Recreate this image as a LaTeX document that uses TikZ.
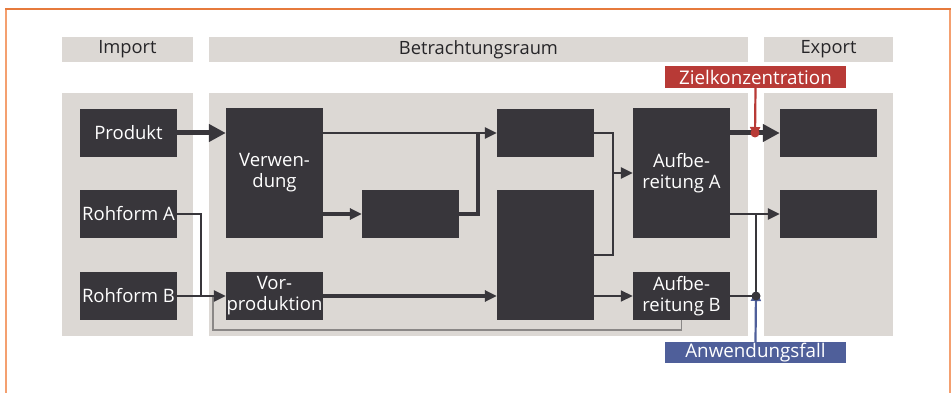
\documentclass[tikz,border=0pt]{standalone}
\usepackage{fontspec}
\setmainfont{Open Sans}
\usetikzlibrary{arrows.meta}
\definecolor{dk}{HTML}{38363B}
\definecolor{pnl}{HTML}{DCD8D4}
\definecolor{rd}{HTML}{B83A36}
\definecolor{bl}{HTML}{4F5F9A}
\definecolor{orA}{HTML}{E67A3C}
\definecolor{orB}{HTML}{F4A070}
\definecolor{gr}{HTML}{8A8786}
\definecolor{tx}{HTML}{262528}
\tikzset{
  dbox/.style={fill=dk, text=white, inner sep=0pt, minimum width=97pt, minimum height=48pt, align=center, font=\fontsize{18.5}{21}\selectfont},
  pbox/.style={fill=pnl, inner sep=0pt, minimum height=243pt},
  hbox/.style={fill=pnl, inner sep=0pt, minimum height=25pt, text=tx, font=\fontsize{18.3}{20}\selectfont},
  lbl/.style={inner sep=0pt, minimum width=181pt, text=white, font=\fontsize{18.8}{20}\selectfont},
  wA/.style={line width=5pt, draw=dk},
  wB/.style={line width=3.2pt, draw=dk},
  wC/.style={line width=2.4pt, draw=dk},
  wD/.style={line width=1.6pt, draw=dk},
  bigtip/.style={-{Triangle[length=17pt,width=17pt]}},
  smtip/.style={-{Triangle[length=12pt,width=11pt]}},
}
\begin{document}
\begin{tikzpicture}[x=1pt,y=-1pt]
\useasboundingbox (0,0) rectangle (951,393);
% frame
\draw[orB, line width=2pt] (6,9) -- (6,393);
\draw[orB, line width=2pt] (950,9) -- (950,393);
\draw[orA, line width=2pt] (5,9) -- (951,9);
% headers
\node[hbox, minimum width=131pt] (himp) at (127.5,49.5) {Import};
\node[hbox, minimum width=539pt] (hbet) at (478.5,49.5) {Betrachtungsraum};
\node[hbox, minimum width=129pt] (hexp) at (828.5,49.5) {Export};
% panels
\node[pbox, minimum width=131pt] (pimp) at (127.5,214.5) {};
\node[pbox, minimum width=539pt] (pbet) at (478.5,214.5) {};
\node[pbox, minimum width=129pt] (pexp) at (828.5,214.5) {};
% labels
\node[lbl, fill=rd, minimum height=22pt] (ziel) at (755.5,77) {Zielkonzentration};
\node[lbl, fill=bl, minimum height=21pt] (anw) at (755.5,352.5) {Anwendungsfall};
% boxes
\node[dbox] (produkt) at (128.5,133) {Produkt};
\node[dbox] (rohA) at (128.5,214) {Rohform A};
\node[dbox] (rohB) at (128.5,296) {Rohform B};
\node[dbox, minimum height=130pt] (verw) at (274.5,173) {Verwen-\\dung};
\node[dbox] (small) at (410.5,214) {};
\node[dbox] (topm) at (545.5,133) {};
\node[dbox, minimum height=130pt] (tall) at (545.5,255) {};
\node[dbox] (vorp) at (274.5,296) {Vor-\\produktion};
\node[dbox, minimum height=130pt] (aufA) at (681.5,173) {Aufbe-\\reitung A};
\node[dbox] (aufB) at (681.5,296) {Aufbe-\\reitung B};
\node[dbox] (ex1) at (828.5,133) {};
\node[dbox] (ex2) at (828.5,214) {};
% junction coordinates
\coordinate (j1) at (478,133);
\coordinate (j2) at (613,173);
\coordinate (j3) at (201,296);
\coordinate (j4) at (213,296);
\coordinate (dotR) at (755,133);
\coordinate (dotK) at (756,296);
\coordinate (j5) at (756,214);
% connectors
\draw[gr, line width=1.4pt] (j4) -- (213,330) -- (aufB.south |- 0,330) -- (aufB.south);
\draw[wA, bigtip] (produkt.east) -- (verw.west |- produkt.east);
\draw[wC, smtip] (verw.east |- topm.west) -- (topm.west);
\draw[wB, smtip] (verw.east |- small.west) -- (small.west);
\draw[wB, line join=miter] (small.east) -- (j1 |- small.east) -- (j1);
\draw[wC, smtip, line join=miter] (topm.east) -- (j2 |- topm.east) -- (j2) -- (aufA.west |- j2);
\draw[wD, line join=miter] (tall.east |- 0,255) -- (j2 |- 0,255) -- (j2);
\draw[wD, smtip] (tall.east |- aufB.west) -- (aufB.west);
\draw[wB, smtip] (vorp.east) -- (tall.west |- vorp.east);
\draw[wC, smtip] (rohB.east) -- (vorp.west);
\draw[wD, line width=1.3pt, line join=miter] (rohA.east) -- (j3 |- rohA.east) -- (j3);
\draw[wA, bigtip] (aufA.east |- ex1.west) -- (ex1.west);
\draw[wC, smtip] (aufA.east |- ex2.west) -- (ex2.west);
\draw[wD] (aufB.east) -- (dotK) -- (j5);
\draw[rd, line width=2.2pt, -{Triangle[length=10pt,width=10pt]}] (ziel.south) -- ([yshift=-4pt]dotR);
\draw[bl, line width=2.2pt, -{Triangle[length=10pt,width=10pt]}] (anw.north) -- ([yshift=5pt]dotK);
\fill[dk] (dotK) circle (4.5pt);
\fill[rd] (dotR) circle (4.5pt);
\end{tikzpicture}
\end{document}
